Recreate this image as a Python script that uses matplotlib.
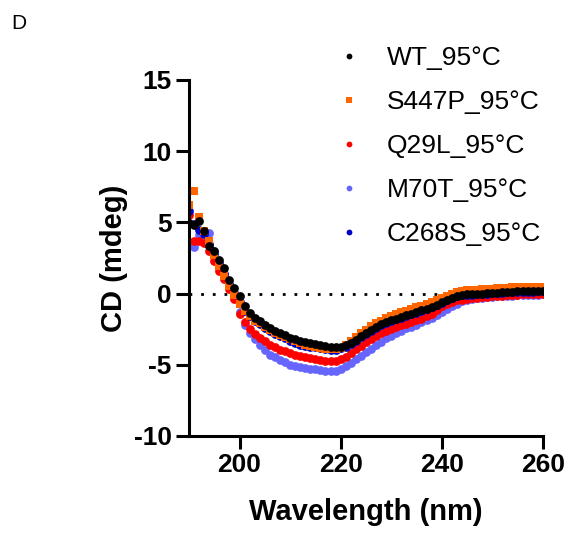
import matplotlib
matplotlib.use("Agg")
import matplotlib.pyplot as plt
import numpy as np

plt.rcParams['font.family'] = ['Liberation Sans', 'DejaVu Sans']
plt.rcParams['axes.unicode_minus'] = False

# wavelength grid, 1 nm steps
wavelength = np.arange(190, 261)

wt = [4.96, 4.8, 5.08, 4.38, 3.32, 2.97, 2.39, 1.8, 0.98, 0.4,
      -0.19, -0.89, -1.36, -1.71, -1.9, -2.18, -2.41, -2.6, -2.76, -2.93,
      -3.1, -3.22, -3.35, -3.42, -3.47, -3.53, -3.58, -3.7, -3.78, -3.78,
      -3.72, -3.62, -3.45, -3.25, -3.0, -2.78, -2.55, -2.35, -2.16, -2.0,
      -1.88, -1.78, -1.65, -1.53, -1.42, -1.3, -1.18, -1.05, -0.94, -0.8,
      -0.62, -0.45, -0.28, -0.15, -0.08, -0.06, -0.05, -0.03, 0.0, 0.02,
      0.05, 0.07, 0.1, 0.12, 0.14, 0.15, 0.16, 0.17, 0.16, 0.18,
      0.2]

s447p = [6.25, 7.2, 5.4, 4.4, 3.67, 2.74, 1.92, 1.22, 0.51, -0.1,
         -0.7, -1.2, -1.6, -1.9, -2.1, -2.35, -2.55, -2.75, -2.9, -3.05,
         -3.2, -3.35, -3.48, -3.58, -3.65, -3.72, -3.8, -3.88, -3.92, -3.9,
         -3.8, -3.6, -3.35, -3.05, -2.8, -2.55, -2.3, -2.1, -1.9, -1.72,
         -1.58, -1.45, -1.32, -1.2, -1.08, -0.96, -0.84, -0.72, -0.6, -0.45,
         -0.3, -0.15, 0.0, 0.1, 0.18, 0.22, 0.25, 0.28, 0.3, 0.32,
         0.35, 0.37, 0.4, 0.42, 0.44, 0.45, 0.46, 0.45, 0.46, 0.45,
         0.44]

q29l = [5.55, 3.67, 3.7, 3.56, 3.0, 2.3, 1.6, 1.0, 0.35, -0.4,
        -1.4, -2.0, -2.5, -2.85, -3.1, -3.35, -3.58, -3.77, -3.93, -4.06,
        -4.17, -4.3, -4.4, -4.47, -4.53, -4.58, -4.63, -4.7, -4.75, -4.72,
        -4.6, -4.45, -4.15, -3.9, -3.65, -3.4, -3.18, -2.97, -2.8, -2.62,
        -2.48, -2.36, -2.24, -2.12, -2.0, -1.88, -1.76, -1.6, -1.45, -1.15,
        -0.9, -0.7, -0.58, -0.48, -0.42, -0.36, -0.32, -0.28, -0.25, -0.22,
        -0.2, -0.18, -0.15, -0.12, -0.1, -0.08, -0.06, -0.04, -0.04, -0.03,
        -0.02]

m70t = [3.44, 3.3, 4.1, 4.3, 4.25, 3.0, 2.2, 1.4, 0.6, -0.2,
        -1.3, -2.2, -2.76, -3.2, -3.6, -3.93, -4.28, -4.45, -4.63, -4.8,
        -4.99, -5.07, -5.15, -5.22, -5.29, -5.33, -5.38, -5.42, -5.45, -5.42,
        -5.3, -5.1, -4.85, -4.58, -4.35, -4.1, -3.88, -3.6, -3.4, -3.15,
        -2.95, -2.75, -2.6, -2.45, -2.32, -2.18, -2.02, -1.85, -1.68, -1.5,
        -1.3, -1.1, -0.9, -0.7, -0.55, -0.45, -0.38, -0.33, -0.29, -0.26,
        -0.23, -0.2, -0.18, -0.16, -0.14, -0.12, -0.1, -0.09, -0.08, -0.07,
        -0.06]

c268s = [5.8, 4.9, 4.45, 4.2, 3.5, 2.8, 2.1, 1.4, 0.7, 0.05,
         -0.6, -1.2, -1.6, -1.95, -2.15, -2.4, -2.62, -2.82, -2.98, -3.15,
         -3.3, -3.45, -3.58, -3.66, -3.72, -3.78, -3.84, -3.9, -3.95, -3.93,
         -3.85, -3.72, -3.52, -3.3, -3.05, -2.82, -2.6, -2.4, -2.2, -2.04,
         -1.92, -1.8, -1.68, -1.56, -1.45, -1.33, -1.2, -1.08, -0.96, -0.82,
         -0.65, -0.48, -0.32, -0.2, -0.12, -0.1, -0.08, -0.06, -0.03, 0.0,
         0.02, 0.04, 0.07, 0.09, 0.11, 0.12, 0.13, 0.14, 0.13, 0.15,
         0.16]

series = [
    ("M70T_95°C", m70t, "#6666FF", "o"),
    ("Q29L_95°C", q29l, "#FF0000", "o"),
    ("C268S_95°C", c268s, "#0000C8", "o"),
    ("S447P_95°C", s447p, "#FF6600", "s"),
    ("WT_95°C", wt, "#000000", "o"),
]
legend_order = ["WT_95°C", "S447P_95°C", "Q29L_95°C", "M70T_95°C", "C268S_95°C"]

fig = plt.figure(figsize=(5.78, 5.33), dpi=100)
ax = fig.add_axes([0.327, 0.182, 0.612, 0.668])

handles = {}
for name, vals, color, marker in series:
    h, = ax.plot(wavelength, vals, linestyle="none", marker=marker, ms=6.3,
                 color=color, markeredgewidth=0, label=name)
    handles[name] = h

ax.axhline(0, color="black", lw=2.0, linestyle=(0, (1, 3.2)), zorder=0.5)

ax.set_xlim(190, 260)
ax.set_ylim(-10, 15)
ax.set_xticks([200, 220, 240, 260])
ax.set_yticks([-10, -5, 0, 5, 10, 15])

for side in ["top", "right"]:
    ax.spines[side].set_visible(False)
for side in ["left", "bottom"]:
    ax.spines[side].set_linewidth(2.2)

ax.tick_params(direction="out", length=9.5, width=2.2, labelsize=19, pad=3)
for lab in ax.get_xticklabels() + ax.get_yticklabels():
    lab.set_fontweight("bold")

ax.set_xlabel("Wavelength (nm)", fontsize=21, fontweight="bold", labelpad=15)
ax.set_ylabel("CD (mdeg)", fontsize=21, fontweight="bold", labelpad=4)

leg = fig.legend([handles[n] for n in legend_order], legend_order,
                 loc="upper left", bbox_to_anchor=(0.540, 0.958),
                 frameon=False, fontsize=19, markerscale=0.66,
                 handlelength=1.0, handletextpad=0.94, labelspacing=0.76)

fig.text(0.02, 0.945, "D", fontsize=15)

fig.savefig("out.png", dpi=100)
